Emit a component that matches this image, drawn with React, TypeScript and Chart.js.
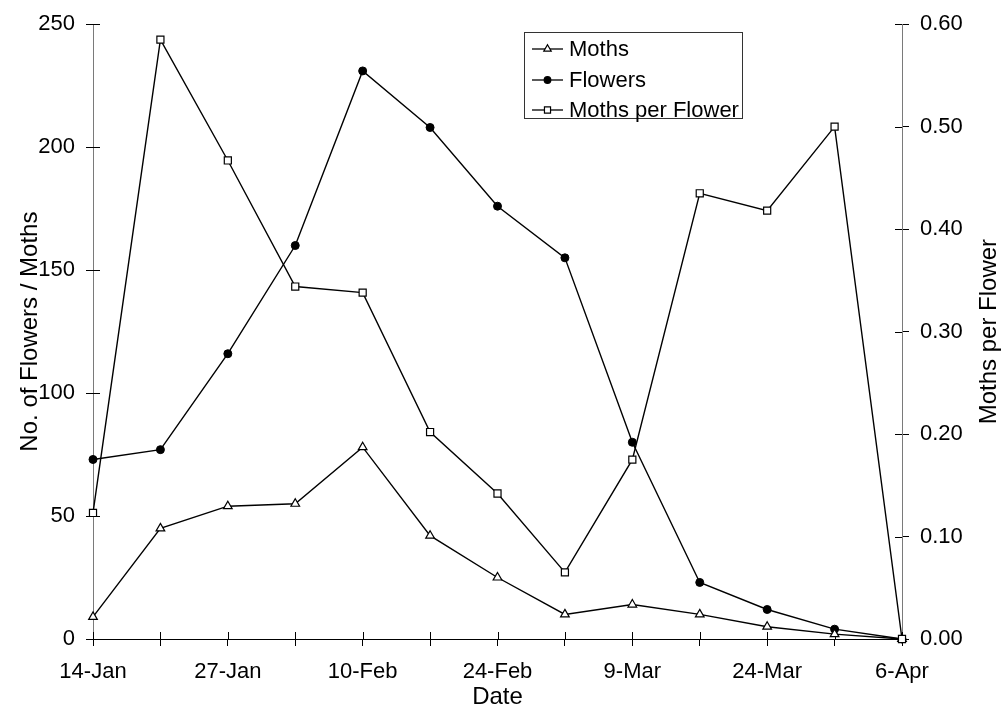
import React, { useEffect, useRef } from 'react';
import { Chart, registerables } from 'chart.js';

Chart.register(...registerables);

// ---- data ----
const dateLabels = ['14-Jan', '', '27-Jan', '', '10-Feb', '', '24-Feb', '', '9-Mar', '', '24-Mar', '', '6-Apr'];
const moths = [9, 45, 54, 55, 78, 42, 25, 10, 14, 10, 5, 2, 0];
const flowers = [73, 77, 116, 160, 231, 208, 176, 155, 80, 23, 12, 4, 0];
const mothsPerFlower = [0.123, 0.585, 0.467, 0.344, 0.338, 0.202, 0.142, 0.065, 0.175, 0.435, 0.418, 0.5, 0];
const leftAxisRange = [0, 250];
const leftAxisStep = 50;
const rightAxisRange = [0, 0.6];
const rightAxisStep = 0.1;
const seriesNames = ['Moths', 'Flowers', 'Moths per Flower'];
const xTitle = 'Date';
const leftTitle = 'No. of Flowers / Moths';
const rightTitle = 'Moths per Flower';

const FONT = "'Liberation Sans', Arial, sans-serif";

function drawMarker(ctx: CanvasRenderingContext2D, style: string, x: number, y: number, r: number) {
  ctx.beginPath();
  if (style === 'triangle') {
    let rad = 0;
    ctx.moveTo(x + Math.sin(rad) * r, y - Math.cos(rad) * r);
    rad += (2 * Math.PI) / 3;
    ctx.lineTo(x + Math.sin(rad) * r, y - Math.cos(rad) * r);
    rad += (2 * Math.PI) / 3;
    ctx.lineTo(x + Math.sin(rad) * r, y - Math.cos(rad) * r);
    ctx.closePath();
    ctx.fillStyle = '#fff';
  } else if (style === 'circle') {
    ctx.arc(x, y, r, 0, Math.PI * 2);
    ctx.fillStyle = '#000';
  } else {
    const s = r * Math.SQRT1_2;
    ctx.rect(x - s, y - s, 2 * s, 2 * s);
    ctx.fillStyle = '#fff';
  }
  ctx.fill();
  ctx.strokeStyle = '#000';
  ctx.lineWidth = 1.2;
  ctx.stroke();
}

const overlayPlugin = {
  id: 'overlay',
  beforeDatasetsDraw(chart: any) {
    const ctx = chart.ctx as CanvasRenderingContext2D;
    const { left, right, bottom } = chart.chartArea;
    const sx = chart.scales.x;
    const sy = chart.scales.y;
    const sy1 = chart.scales.y1;
    ctx.save();
    ctx.strokeStyle = '#000';
    ctx.lineWidth = 1;
    ctx.beginPath();
    sx.ticks.forEach((_t: any, i: number) => {
      const px = Math.round(sx.getPixelForTick(i)) + 0.5;
      ctx.moveTo(px, bottom);
      ctx.lineTo(px, bottom - 7);
    });
    sy.ticks.forEach((_t: any, i: number) => {
      const py = Math.round(sy.getPixelForTick(i)) + 0.5;
      ctx.moveTo(left, py);
      ctx.lineTo(left + 7, py);
    });
    sy1.ticks.forEach((_t: any, i: number) => {
      const py = Math.round(sy1.getPixelForTick(i)) + 0.5;
      ctx.moveTo(right, py);
      ctx.lineTo(right - 7, py);
    });
    ctx.stroke();
    ctx.restore();
  },
  afterDraw(chart: any) {
    const ctx = chart.ctx as CanvasRenderingContext2D;
    ctx.save();
    // right axis title (reads bottom to top)
    const { top, bottom } = chart.chartArea;
    ctx.translate(989, (top + bottom) / 2);
    ctx.rotate(-Math.PI / 2);
    ctx.fillStyle = '#000';
    ctx.font = `24px ${FONT}`;
    ctx.textAlign = 'center';
    ctx.textBaseline = 'middle';
    ctx.fillText(rightTitle, 0, 0);
    ctx.restore();

    // legend
    ctx.save();
    const bx = 524.5, by = 32.5, bw = 218, bh = 86;
    ctx.fillStyle = '#fff';
    ctx.fillRect(bx, by, bw, bh);
    ctx.strokeStyle = '#333';
    ctx.lineWidth = 1;
    ctx.strokeRect(bx, by, bw, bh);
    const styles = ['triangle', 'circle', 'rect'];
    const rows = [49, 80, 110];
    ctx.font = `22px ${FONT}`;
    ctx.textAlign = 'left';
    ctx.textBaseline = 'middle';
    seriesNames.forEach((name, i) => {
      const y = rows[i];
      ctx.beginPath();
      ctx.strokeStyle = '#000';
      ctx.lineWidth = 1.3;
      ctx.moveTo(532, y);
      ctx.lineTo(563, y);
      ctx.stroke();
      drawMarker(ctx, styles[i], 547.5, y, styles[i] === 'circle' ? 3.3 : 4.3);
      ctx.fillStyle = '#000';
      ctx.fillText(name, 569, y + 1);
    });
    ctx.restore();
  },
};

export default function App() {
  const canvasRef = useRef<HTMLCanvasElement | null>(null);

  useEffect(() => {
    document.body.style.margin = '0';
    const canvas = canvasRef.current;
    if (!canvas) return;
    const tickFont = { family: FONT, size: 22 };
    const chart = new Chart(canvas, {
      type: 'line',
      data: {
        labels: dateLabels,
        datasets: [
          {
            label: seriesNames[0],
            data: moths,
            yAxisID: 'y',
            borderColor: '#000',
            borderWidth: 1.4,
            pointStyle: 'triangle',
            pointRadius: 5,
            pointBackgroundColor: '#fff',
            pointBorderColor: '#000',
            pointBorderWidth: 1.2,
            tension: 0,
            clip: false,
            order: 1,
          },
          {
            label: seriesNames[1],
            data: flowers,
            yAxisID: 'y',
            borderColor: '#000',
            borderWidth: 1.4,
            pointStyle: 'circle',
            pointRadius: 4,
            pointBackgroundColor: '#000',
            pointBorderColor: '#000',
            pointBorderWidth: 1,
            tension: 0,
            clip: false,
            order: 2,
          },
          {
            label: seriesNames[2],
            data: mothsPerFlower,
            yAxisID: 'y1',
            borderColor: '#000',
            borderWidth: 1.4,
            pointStyle: 'rect',
            pointRadius: 5,
            pointBackgroundColor: '#fff',
            pointBorderColor: '#000',
            pointBorderWidth: 1.2,
            tension: 0,
            clip: false,
            order: 0,
          },
        ],
      },
      options: {
        responsive: false,
        animation: false,
        devicePixelRatio: 1,
        layout: { padding: { top: 22, left: 0, right: 0, bottom: 0 } },
        plugins: {
          legend: { display: false },
          tooltip: { enabled: false },
        },
        scales: {
          x: {
            type: 'category',
            offset: false,
            grid: { display: true, drawOnChartArea: false, drawTicks: true, tickLength: 7, color: '#000' },
            border: { display: true, color: '#000', width: 1 },
            ticks: {
              autoSkip: false,
              maxRotation: 0,
              minRotation: 0,
              padding: 13,
              color: '#000',
              font: tickFont,
            },
            title: {
              display: true,
              text: xTitle,
              color: '#000',
              font: { family: FONT, size: 24, lineHeight: 0.92 },
              padding: { top: 0, bottom: 0 },
            },
            afterFit: (scale: any) => {
              scale.height = 69;
            },
          },
          y: {
            type: 'linear',
            position: 'left',
            min: leftAxisRange[0],
            max: leftAxisRange[1],
            grid: { display: true, drawOnChartArea: false, drawTicks: true, tickLength: 7, color: '#000' },
            border: { display: true, color: '#7a7a7a', width: 1 },
            ticks: {
              stepSize: leftAxisStep,
              padding: 11,
              color: '#000',
              font: tickFont,
            },
            title: {
              display: true,
              text: leftTitle,
              color: '#000',
              font: { family: FONT, size: 24, lineHeight: 1 },
              padding: { top: 18, bottom: 0 },
            },
            afterFit: (scale: any) => {
              scale.width = 93;
            },
          },
          y1: {
            type: 'linear',
            position: 'right',
            min: rightAxisRange[0],
            max: rightAxisRange[1],
            grid: { display: true, drawOnChartArea: false, drawTicks: true, tickLength: 7, color: '#000' },
            border: { display: true, color: '#7a7a7a', width: 1 },
            ticks: {
              stepSize: rightAxisStep,
              padding: 11,
              color: '#000',
              font: tickFont,
              callback: (v: any) => Number(v).toFixed(2),
            },
            title: { display: false },
            afterFit: (scale: any) => {
              scale.width = 101;
            },
          },
        },
      },
      plugins: [overlayPlugin],
    });
    return () => chart.destroy();
  }, []);

  return (
    <div style={{ width: 1003, height: 708 }}>
      <canvas ref={canvasRef} width={1003} height={708} style={{ display: 'block' }} />
    </div>
  );
}
